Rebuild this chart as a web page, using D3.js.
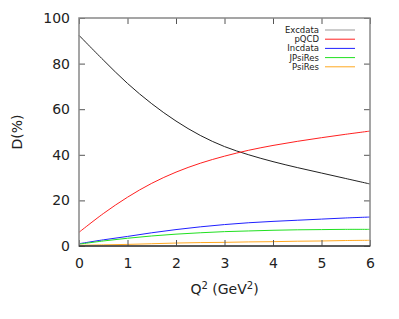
<!DOCTYPE html>
<html>
<head>
<meta charset="utf-8">
<script src="https://cdn.jsdelivr.net/npm/d3@7.9.0/dist/d3.min.js"></script>
<style>
  body { margin: 0; background: #fff; }
  svg { display: block; font-family: "DejaVu Sans", sans-serif; }
  .tick text { fill: #222; }
</style>
</head>
<body>
<svg id="chart" width="399" height="319"></svg>
<script>
// Q^2 sample points (GeV^2)
const q2 = [0, 0.5, 1, 1.5, 2, 2.5, 3, 3.5, 4, 4.5, 5, 5.5, 6];

// D(%) for each contribution
const excdata = [92.4, 81.6, 71.3, 62.4, 54.8, 48.5, 43.6, 40.0, 37.0, 34.4, 32.0, 29.6, 27.2];
const pqcd    = [6.0, 14.2, 21.4, 27.5, 32.4, 36.3, 39.4, 42.0, 44.1, 45.9, 47.5, 49.0, 50.4];
const incdata = [1.0, 2.7, 4.2, 5.8, 7.2, 8.4, 9.4, 10.2, 10.8, 11.3, 11.8, 12.3, 12.7];
const jpsires = [0.8, 2.2, 3.4, 4.4, 5.2, 5.8, 6.3, 6.6, 6.9, 7.1, 7.2, 7.3, 7.3];
const psires  = [0.3, 0.5, 0.7, 1.0, 1.3, 1.5, 1.6, 1.8, 1.9, 2.1, 2.2, 2.4, 2.5];

const seriesNames = ["Excdata", "pQCD", "Incdata", "JPsiRes", "PsiRes"];
const seriesColors = ["#222222", "#ff2020", "#2020ff", "#20e020", "#ffa820"];
const seriesValues = [excdata, pqcd, incdata, jpsires, psires];

const xTicks = [0, 1, 2, 3, 4, 5, 6];
const yTicks = [0, 20, 40, 60, 80, 100];

const svg = d3.select("#chart");
const mLeft = 79, mRight = 370, mTop = 18, mBottom = 246;

const x = d3.scaleLinear().domain([0, 6]).range([mLeft, mRight]);
const y = d3.scaleLinear().domain([0, 100]).range([mBottom, mTop]);

// curves
const line = d3.line()
  .x((d, i) => x(q2[i]))
  .y(d => y(d))
  .curve(d3.curveCatmullRom);

seriesValues.forEach((vals, idx) => {
  svg.append("path")
    .attr("d", line(vals))
    .attr("fill", "none")
    .attr("stroke", seriesColors[idx])
    .attr("stroke-width", 1);
});

// axes, ticks pointing inward
const tickFont = "14px";
const xAxis = svg.append("g")
  .attr("transform", `translate(0,${mBottom})`)
  .call(d3.axisBottom(x).tickValues(xTicks).tickFormat(d3.format("d")).tickSize(-6).tickPadding(12));
const yAxis = svg.append("g")
  .attr("transform", `translate(${mLeft},0)`)
  .call(d3.axisLeft(y).tickValues(yTicks).tickFormat(d3.format("d")).tickSize(-6).tickPadding(9));
// mirrored ticks on top and right
const xTop = svg.append("g")
  .attr("transform", `translate(0,${mTop})`)
  .call(d3.axisTop(x).tickValues(xTicks).tickFormat("").tickSize(-6));
const yRight = svg.append("g")
  .attr("transform", `translate(${mRight},0)`)
  .call(d3.axisRight(y).tickValues(yTicks).tickFormat("").tickSize(-6));

[xAxis, yAxis, xTop, yRight].forEach(g => {
  g.select(".domain").remove();
  g.selectAll(".tick line").attr("stroke", "#555");
  g.selectAll("text").style("font-size", tickFont).attr("font-family", "DejaVu Sans");
});

// frame
svg.append("rect")
  .attr("x", mLeft).attr("y", mTop)
  .attr("width", mRight - mLeft).attr("height", mBottom - mTop)
  .attr("fill", "none")
  .attr("stroke", "#888")
  .attr("stroke-width", 1.5);
svg.append("line")
  .attr("x1", mLeft).attr("x2", mRight)
  .attr("y1", mBottom).attr("y2", mBottom)
  .attr("stroke", "#111").attr("stroke-width", 1.2);

// axis titles
const xTitle = svg.append("text")
  .attr("x", (mLeft + mRight) / 2)
  .attr("y", 294)
  .attr("text-anchor", "middle")
  .style("font-size", "14px")
  .attr("fill", "#222");
xTitle.append("tspan").text("Q");
xTitle.append("tspan").attr("dy", -5).style("font-size", "10px").text("2");
xTitle.append("tspan").attr("dy", 5).text(" (GeV");
xTitle.append("tspan").attr("dy", -5).style("font-size", "10px").text("2");
xTitle.append("tspan").attr("dy", 5).text(")");

svg.append("text")
  .attr("transform", `translate(22,${(mTop + mBottom) / 2}) rotate(-90)`)
  .attr("text-anchor", "middle")
  .style("font-size", "14px")
  .attr("fill", "#222")
  .text("D(%)");

// legend
const legend = svg.append("g");
seriesNames.forEach((name, idx) => {
  const ly = 30 + idx * 9.2;
  legend.append("text")
    .attr("x", 319)
    .attr("y", ly)
    .attr("dy", "0.35em")
    .attr("text-anchor", "end")
    .style("font-size", "8.5px")
    .attr("fill", "#222")
    .text(name);
  legend.append("line")
    .attr("x1", 325).attr("x2", 355)
    .attr("y1", ly).attr("y2", ly)
    .attr("stroke", idx === 0 ? "#999" : seriesColors[idx])
    .attr("stroke-width", 1);
});
</script>
</body>
</html>
